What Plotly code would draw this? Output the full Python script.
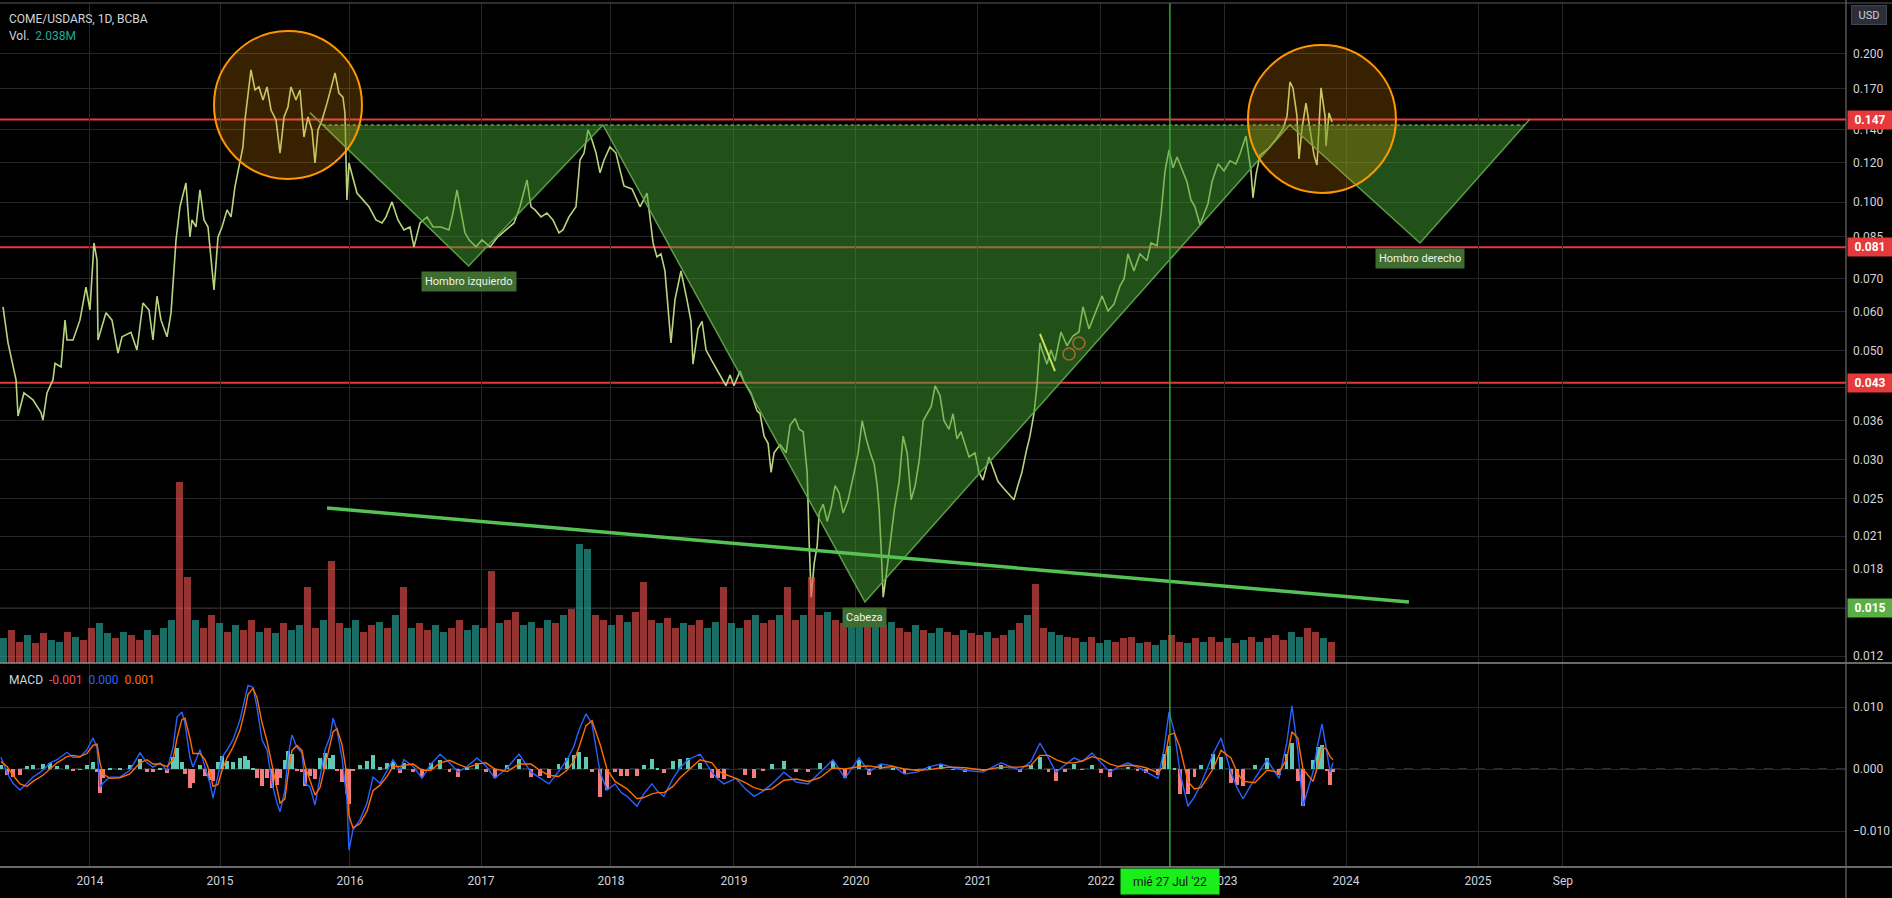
import numpy as np
import plotly.graph_objects as go

# ---------------- data ----------------
# x values are chart-position years (2014.0 = start of 2014 on a linear time scale)
price_a = [(2013.226,0.0613),(2013.266,0.0518),(2013.330,0.0436),(2013.346,0.0368),(2013.393,0.0410),(2013.465,0.0397),(2013.529,0.0374),(2013.545,0.0361),(2013.577,0.0410),(2013.625,0.0436),(2013.641,0.0471),(2013.689,0.0463),(2013.721,0.0576),(2013.737,0.0525),(2013.785,0.0525),(2013.840,0.0576),(2013.888,0.0672),(2013.920,0.0604),(2013.952,0.0826),(2013.976,0.0763),(2013.984,0.0525),(2014.048,0.0596),(2014.096,0.0576),(2014.144,0.0494),(2014.176,0.0533),(2014.247,0.0544),(2014.295,0.0501),(2014.343,0.0624),(2014.391,0.0604),(2014.423,0.0525),(2014.455,0.0644),(2014.487,0.0576),(2014.535,0.0533),(2014.567,0.0596),(2014.607,0.0838),(2014.638,0.0978),(2014.686,0.1093),(2014.718,0.0850),(2014.734,0.0920),(2014.766,0.0890),(2014.798,0.1058),(2014.830,0.0920),(2014.862,0.0890),(2014.894,0.0738),(2014.910,0.0663),(2014.942,0.0850),(2014.974,0.0890),(2015.014,0.0964),(2015.046,0.0933),(2015.077,0.1073),(2015.109,0.1178),(2015.141,0.1293),(2015.157,0.1467),(2015.181,0.1632),(2015.205,0.1853),(2015.237,0.1688),(2015.269,0.1712),(2015.301,0.1610),(2015.333,0.1712),(2015.365,0.1537),(2015.405,0.1467),(2015.437,0.1257),(2015.469,0.1488),(2015.500,0.1559),(2015.524,0.1712),(2015.564,0.1610),(2015.596,0.1688),(2015.628,0.1355),(2015.660,0.1488),(2015.692,0.1400),(2015.716,0.1200),(2015.740,0.1400),(2015.772,0.1467),(2015.812,0.1587),(2015.844,0.1712),(2015.876,0.1828),(2015.907,0.1664),(2015.939,0.1632),(2015.955,0.1516),(2015.963,0.1257),(2015.971,0.1010),(2015.987,0.1200),(2016.019,0.1125),(2016.051,0.1043),(2016.099,0.1010),(2016.147,0.0978),(2016.203,0.0920),(2016.251,0.0907),(2016.283,0.0933),(2016.330,0.1001),(2016.378,0.0920),(2016.426,0.0878),(2016.474,0.0890),(2016.506,0.0811),(2016.554,0.0907),(2016.610,0.0933),(2016.658,0.0890),(2016.722,0.0890),(2016.785,0.0878),(2016.817,0.0950),(2016.849,0.1058),(2016.881,0.0950),(2016.913,0.0866),(2016.945,0.0838),(2017.001,0.0811),(2017.049,0.0838),(2017.113,0.0811),(2017.176,0.0850),(2017.240,0.0878),(2017.304,0.0907),(2017.352,0.0978),(2017.408,0.1109),(2017.440,0.0978),(2017.472,0.0964),(2017.520,0.0933),(2017.567,0.0950),(2017.615,0.0920),(2017.663,0.0866),(2017.695,0.0878),(2017.743,0.0933),(2017.799,0.0978),(2017.831,0.1217),(2017.863,0.1257),(2017.895,0.1400),(2017.919,0.1355),(2017.959,0.1257),(2017.991,0.1146),(2018.023,0.1217),(2018.070,0.1293),(2018.118,0.1257),(2018.150,0.1162)]
price_b = [(2018.182,0.1078),(2018.246,0.1063),(2018.310,0.0978),(2018.366,0.1043),(2018.414,0.0826),(2018.445,0.0774),(2018.477,0.0785),(2018.509,0.0725),(2018.541,0.0593),(2018.557,0.0518),(2018.589,0.0633),(2018.637,0.0725),(2018.685,0.0633),(2018.717,0.0573),(2018.733,0.0469),(2018.773,0.0553),(2018.805,0.0573),(2018.837,0.0501),(2018.884,0.0476),(2018.932,0.0454),(2018.964,0.0438),(2018.996,0.0424),(2019.028,0.0446),(2019.060,0.0424),(2019.108,0.0454),(2019.140,0.0432),(2019.196,0.0410),(2019.244,0.0377),(2019.268,0.0372),(2019.300,0.0335),(2019.332,0.0324),(2019.356,0.0283),(2019.380,0.0310),(2019.428,0.0322),(2019.476,0.0310),(2019.508,0.0353),(2019.548,0.0364),(2019.580,0.0346),(2019.612,0.0342),(2019.628,0.0314),(2019.644,0.0283),(2019.660,0.0204),(2019.676,0.0158),(2019.700,0.0185),(2019.724,0.0201),(2019.740,0.0234),(2019.772,0.0244),(2019.804,0.0225),(2019.836,0.0241),(2019.867,0.0266),(2019.899,0.0257),(2019.931,0.0234),(2019.971,0.0249),(2020.019,0.0283),(2020.051,0.0310),(2020.083,0.0360),(2020.115,0.0331),(2020.147,0.0310),(2020.179,0.0294),(2020.203,0.0266),(2020.219,0.0237),(2020.235,0.0197),(2020.251,0.0158),(2020.275,0.0175),(2020.307,0.0201),(2020.339,0.0237),(2020.378,0.0271),(2020.410,0.0335),(2020.442,0.0310),(2020.474,0.0249),(2020.506,0.0266),(2020.538,0.0299),(2020.570,0.0360),(2020.602,0.0372),(2020.634,0.0385),(2020.666,0.0424),(2020.704,0.0405),(2020.736,0.0360),(2020.776,0.0346),(2020.808,0.0372),(2020.840,0.0331),(2020.872,0.0342),(2020.904,0.0322),(2020.936,0.0304),(2020.983,0.0310)]
price_c = [(2021.015,0.0283),(2021.047,0.0273),(2021.095,0.0304),(2021.127,0.0289),(2021.167,0.0271),(2021.215,0.0262),(2021.263,0.0254),(2021.294,0.0249),(2021.326,0.0266),(2021.358,0.0283),(2021.390,0.0310),(2021.422,0.0335),(2021.454,0.0372),(2021.478,0.0424),(2021.502,0.0518),(2021.518,0.0501),(2021.558,0.0469),(2021.590,0.0501),(2021.622,0.0476),(2021.670,0.0545),(2021.718,0.0511),(2021.765,0.0535),(2021.813,0.0545),(2021.845,0.0613),(2021.893,0.0553),(2021.941,0.0593),(2021.997,0.0645),(2022.045,0.0601),(2022.093,0.0621),(2022.141,0.0676),(2022.173,0.0698),(2022.204,0.0785),(2022.252,0.0725),(2022.300,0.0785),(2022.356,0.0760),(2022.388,0.0826),(2022.436,0.0815),(2022.468,0.0946),(2022.500,0.1156),(2022.532,0.1275),(2022.564,0.1173),(2022.596,0.1234),(2022.644,0.1156),(2022.675,0.1099),(2022.707,0.1010),(2022.739,0.0978),(2022.779,0.0899),(2022.811,0.0946),(2022.843,0.0992),(2022.875,0.1099),(2022.923,0.1195),(2022.971,0.1156),(2023.018,0.1212),(2023.066,0.1195),(2023.098,0.1251),(2023.146,0.1361),(2023.186,0.1156),(2023.202,0.1020),(2023.226,0.1135),(2023.258,0.1245),(2023.322,0.1281),(2023.386,0.1342),(2023.442,0.1407),(2023.474,0.1495),(2023.497,0.1752),(2023.521,0.1704),(2023.553,0.1495),(2023.569,0.1223),(2023.593,0.1407),(2023.625,0.1587),(2023.657,0.1407),(2023.689,0.1245),(2023.713,0.1189),(2023.737,0.1516),(2023.745,0.1704),(2023.777,0.1495),(2023.785,0.1299),(2023.809,0.1516),(2023.833,0.1453)]

# volume in millions, one bar every ~3.3 weeks from vol_start
vol_start = 2013.226
vol_step = 0.06385
volume = [1.5,2.0,1.3,1.7,1.2,1.8,1.4,1.3,1.9,1.6,1.4,2.1,2.4,1.8,1.5,1.9,1.7,1.4,2.0,1.7,2.1,2.6,
          11.0,5.2,
          2.6,2.1,2.9,2.4,1.9,2.3,2.0,2.6,1.9,2.1,1.8,2.4,2.0,2.3,4.6,2.1,2.6,
          6.2,
          2.4,2.1,2.6,1.9,2.3,2.5,2.1,2.9,4.6,2.1,2.4,2.0,2.3,1.9,2.1,2.6,2.0,2.3,2.1,
          5.6,
          2.4,2.6,3.1,2.3,2.5,2.1,2.6,2.4,2.9,3.3,
          7.2,6.9,
          2.9,2.6,2.3,2.9,2.5,3.1,4.9,2.6,2.4,2.7,2.1,2.4,2.3,2.6,2.1,2.5,4.6,2.4,2.1,2.6,2.9,2.4,2.6,2.9,4.6,2.6,2.9,
          5.2,
          2.9,3.1,2.6,2.4,2.7,2.5,2.9,2.6,2.3,2.5,2.1,1.9,2.3,2.0,1.8,2.1,1.9,1.7,2.0,1.8,1.7,1.9,1.5,1.7,2.0,2.4,2.9,
          4.8,
          2.1,1.9,1.7,
          1.6,1.5,1.3,1.6,1.2,1.4,1.3,1.5,1.6,1.2,1.3,1.1,1.4,1.7,1.3,1.2,1.5,1.3,1.6,1.3,1.5,1.2,1.4,1.6,1.3,1.5,1.7,1.4,1.9,1.6,2.1,1.9,1.5,1.3]
vol_dir = ("uddudduudu" "dduududdud" "uudduddudu" "ddududuudd" "udduuddudu" "dudduudduu"
           "ddudduudud" "uduuddudud" "dduddudduu" "duududdudd" "uddudduudu" "dudduduudd"
           "udduddudud" "duudduduud" "dduduuddud" "uddudududd" "duudduddud")

# MACD: (position year, MACD line, signal line)
macd = [(2013.21,.0019,.0012),(2013.258,-.0006,.0004),(2013.306,-.0023,-.0010),(2013.362,-.0034,-.0024),(2013.417,-.0023,-.0028),(2013.465,-.0013,-.0020),(2013.545,-.0002,-.0010),(2013.601,.0010,.0000),(2013.657,.0015,.0010),(2013.737,.0027,.0020),(2013.785,.0019,.0022),(2013.840,.0019,.0020),(2013.896,.0031,.0025),(2013.944,.0050,.0038),(2013.976,.0035,.0040),(2014.000,-.0029,.0010),(2014.024,-.0023,-.0008),(2014.080,-.0013,-.0015),(2014.160,-.0013,-.0014),(2014.239,-.0002,-.0008),(2014.319,.0026,.0010),(2014.375,.0010,.0015),(2014.423,.0003,.0008),(2014.479,.0010,.0008),(2014.535,-.0002,.0004),(2014.583,.0035,.0015),(2014.615,.0084,.0050),(2014.654,.0092,.0080),(2014.678,.0074,.0082),(2014.718,.0019,.0050),(2014.742,.0003,.0025),(2014.798,.0031,.0025),(2014.838,.0003,.0015),(2014.878,-.0023,-.0005),(2014.902,-.0047,-.0028),(2014.942,-.0013,-.0025),(2014.974,.0019,-.0002),(2015.014,.0031,.0018),(2015.061,.0047,.0035),(2015.117,.0079,.0062),(2015.157,.0116,.0095),(2015.181,.0135,.0120),(2015.221,.0132,.0130),(2015.253,.0100,.0115),(2015.293,.0047,.0075),(2015.333,.0031,.0045),(2015.373,-.0023,.0008),(2015.413,-.0055,-.0030),(2015.437,-.0069,-.0055),(2015.476,-.0034,-.0048),(2015.500,.0019,-.0010),(2015.532,.0055,.0030),(2015.572,.0035,.0038),(2015.612,.0026,.0030),(2015.636,-.0023,.0005),(2015.676,-.0029,-.0018),(2015.716,-.0058,-.0042),(2015.756,-.0013,-.0030),(2015.796,.0031,.0005),(2015.836,.0052,.0035),(2015.860,.0082,.0060),(2015.891,.0063,.0065),(2015.931,.0019,.0040),(2015.971,-.0050,-.0010),(2015.987,-.0131,-.0075),(2016.019,-.0098,-.0095),(2016.075,-.0082,-.0088),(2016.131,-.0055,-.0068),(2016.179,-.0013,-.0035),(2016.235,-.0023,-.0026),(2016.291,-.0002,-.0012),(2016.338,.0015,.0004),(2016.394,-.0002,.0004),
        (2016.426,.0015,.0006),(2016.500,.0004,.0008),(2016.570,-.0015,-.0002),(2016.640,.0008,-.0002),(2016.714,.0024,.0010),(2016.790,.0010,.0014),(2016.857,-.0005,.0008),(2016.930,.0004,.0002),(2017.009,.0018,.0008),(2017.080,.0005,.0010),(2017.152,-.0015,.0000),(2017.250,.0002,-.0004),(2017.344,.0024,.0008),(2017.440,-.0005,.0008),(2017.510,-.0014,-.0002),(2017.583,-.0024,-.0010),(2017.660,-.0004,-.0012),(2017.727,.0015,-.0002),(2017.780,.0035,.0012),(2017.823,.0063,.0035),(2017.879,.0089,.0070),(2017.927,.0073,.0078),(2017.991,-.0005,.0040),(2018.046,-.0034,.0000),(2018.110,-.0024,-.0020),(2018.160,-.0038,-.0026),(2018.206,-.0044,-.0032),(2018.286,-.0060,-.0048),(2018.340,-.0040,-.0046),(2018.405,-.0024,-.0040),(2018.450,-.0036,-.0038),(2018.501,-.0044,-.0038),(2018.573,-.0015,-.0028),(2018.630,.0002,-.0014),(2018.693,.0015,-.0002),(2018.789,.0024,.0015),(2018.884,-.0005,.0010),(2018.930,-.0016,-.0002),(2018.980,-.0024,-.0008),(2019.076,-.0015,-.0015),(2019.150,-.0032,-.0022),(2019.220,-.0044,-.0030),(2019.290,-.0036,-.0034),(2019.363,-.0024,-.0032),(2019.459,-.0005,-.0018),(2019.555,-.0021,-.0016),(2019.651,-.0024,-.0020),(2019.746,-.0005,-.0014),(2019.850,.0015,.0002),(2019.946,-.0015,.0000),(2020.058,.0018,.0004),(2020.137,-.0005,.0005),(2020.230,.0008,.0002),(2020.329,.0005,.0004),(2020.420,-.0008,.0000),(2020.521,-.0005,-.0002),(2020.620,.0004,-.0001),(2020.712,.0008,.0002),(2020.810,.0002,.0003),(2020.904,-.0002,.0002),(2021.047,-.0005,-.0002),(2021.191,.0010,.0003),(2021.342,-.0002,.0003),(2021.430,.0012,.0006),(2021.502,.0042,.0022),(2021.570,.0018,.0022),(2021.630,-.0005,.0015),(2021.700,.0006,.0010),(2021.773,.0018,.0010),(2021.840,.0012,.0013),(2021.917,.0026,.0020),(2021.990,.0010,.0016),(2022.061,-.0005,.0008),(2022.130,.0004,.0004),(2022.204,.0010,.0006),(2022.280,.0003,.0005),(2022.348,-.0005,.0002),(2022.444,-.0015,-.0006),(2022.490,.0030,.0005),(2022.532,.0092,.0055),(2022.575,.0060,.0058),(2022.619,-.0005,.0035),(2022.683,-.0060,-.0020),(2022.735,-.0045,-.0032),(2022.787,-.0024,-.0030),(2022.883,.0024,.0000),(2022.947,.0050,.0030),(2023.026,-.0005,.0018),(2023.075,-.0030,-.0005),(2023.122,-.0048,-.0020),(2023.218,-.0015,-.0022),(2023.314,.0015,-.0002),(2023.410,-.0015,-.0005),(2023.470,.0040,.0015),(2023.513,.0102,.0060),(2023.560,.0030,.0050),(2023.601,-.0060,.0000),(2023.681,-.0005,-.0020),(2023.720,.0040,.0005),(2023.753,.0073,.0035),(2023.790,.0030,.0032),(2023.817,-.0005,.0020),(2023.841,.0010,.0015)]

# drawn levels
levels_red = [0.147, 0.081, 0.043]
level_green = 0.015

# inverse head & shoulders drawing: start, L-shoulder, neck, head, neck, R-shoulder, end
hs_t = [2015.676, 2016.942, 2018.014, 2020.105, 2023.495, 2024.535, 2025.413]
hs_v = [0.1518, 0.0742, 0.1433, 0.01545, 0.1433, 0.0826, 0.1473]
hs_text = {1: "Hombro izquierdo", 3: "Cabeza", 5: "Hombro derecho"}

# highlight circles (x0, x1, y0, y1)
circle_boxes = [(2014.910, 2016.091, 0.1114, 0.2223), (2023.162, 2024.343, 0.1043, 0.2083)]
small_circles = [(2021.686, 2021.782, 0.04782, 0.05057), (2021.765, 2021.861, 0.05034, 0.05325)]
small_line = [(2021.502, 0.0540), (2021.622, 0.0454)]

trend_t = [2015.812, 2024.447]
trend_v = [0.02395, 0.01544]

crosshair_t = 2022.539
crosshair_label = "mié 27 Jul '22"

# positions of the time-axis labels as they sit on the chart (bar-spaced axis)
year_ticks = [2013.920, 2014.958, 2015.995, 2017.041, 2018.078, 2019.060, 2020.033, 2021.007,
              2021.989, 2022.971, 2023.945, 2024.998, 2025.676]
year_text = ["2014", "2015", "2016", "2017", "2018", "2019", "2020", "2021", "2022", "2023", "2024", "2025", "Sep"]
price_ticks = [0.012, 0.015, 0.018, 0.021, 0.025, 0.030, 0.036, 0.042, 0.050, 0.060, 0.070,
               0.085, 0.100, 0.120, 0.140, 0.170, 0.200]
macd_ticks = [-0.01, 0.0, 0.01]
macd_ticktext = ["\u22120.010", "0.000", "0.010"]

# ---------------- styling ----------------
BG = "#000000"
GRID = "#262626"
TXT = "#d1d4dc"
FONT = "Roboto, 'Liberation Sans', sans-serif"
XR = [2013.202, 2027.935]
MAC_H = 204 / 864.0

price = price_a + price_b + price_c
pt = [p[0] for p in price]
pv = [p[1] for p in price]

vol_t = [vol_start + i * vol_step for i in range(len(volume))]
vol_colors = ["rgba(38,166,154,0.65)" if c == "u" else "rgba(239,83,80,0.62)" for c in vol_dir[:len(volume)]]

mt = [m[0] for m in macd]
mv = [m[1] for m in macd]
sv = [m[2] for m in macd]
hist = [a - b for a, b in zip(mv, sv)]
hist_colors = ["#5fc9b5" if h >= 0 else "#f47c80" for h in hist]

# neckline crossing points of the outer legs
lv = np.log10(hs_v)
neck_v = hs_v[2]
neck = lv[2]
def cross(i, j):
    f = (lv[i] - neck) / (lv[i] - lv[j])
    return hs_t[i] + f * (hs_t[j] - hs_t[i])
xl = cross(0, 1)
xr = cross(6, 5)
poly_t = [xl] + hs_t[1:6] + [xr, xl]
poly_v = [neck_v] + hs_v[1:6] + [neck_v, neck_v]

fig = go.Figure()
fig.add_trace(go.Bar(x=vol_t, y=volume, xaxis="x", yaxis="y3", width=0.056,
                     marker=dict(color=vol_colors, line=dict(width=0)), hoverinfo="skip"))
fig.add_trace(go.Scatter(x=pt, y=pv, xaxis="x", yaxis="y", mode="lines",
                         line=dict(color="#b8d47e", width=1.6), hoverinfo="skip"))
fig.add_trace(go.Scatter(x=poly_t, y=poly_v, xaxis="x", yaxis="y", mode="lines", fill="toself",
                         fillcolor="rgba(67,160,50,0.5)", line=dict(width=0), hoverinfo="skip"))
fig.add_trace(go.Scatter(x=hs_t, y=hs_v, xaxis="x", yaxis="y", mode="lines",
                         line=dict(color="rgba(100,170,80,0.9)", width=1.5), hoverinfo="skip"))
fig.add_trace(go.Scatter(x=[xl, xr], y=[neck_v, neck_v], xaxis="x", yaxis="y", mode="lines",
                         line=dict(color="rgba(110,175,90,0.9)", width=1.5, dash="dot"), hoverinfo="skip"))
fig.add_trace(go.Bar(x=mt, y=hist, xaxis="x2", yaxis="y2", width=0.03,
                     marker=dict(color=hist_colors, line=dict(width=0)), hoverinfo="skip"))
fig.add_trace(go.Scatter(x=mt, y=mv, xaxis="x2", yaxis="y2", mode="lines",
                         line=dict(color="#2962ff", width=1.4), hoverinfo="skip"))
fig.add_trace(go.Scatter(x=mt, y=sv, xaxis="x2", yaxis="y2", mode="lines",
                         line=dict(color="#ff6d00", width=1.4), hoverinfo="skip"))

shapes = []
for lvl in levels_red:
    shapes.append(dict(type="line", xref="paper", x0=0, x1=1, yref="y", y0=lvl, y1=lvl,
                       line=dict(color="#e5393c", width=2), layer="below"))
shapes.append(dict(type="line", xref="paper", x0=0, x1=1, yref="y", y0=level_green, y1=level_green,
                   line=dict(color="#456f30", width=1.2), layer="below"))
shapes.append(dict(type="line", xref="paper", x0=0, x1=1, yref="y2", y0=0, y1=0,
                   line=dict(color="#5d606b", width=1, dash="dash"), layer="below"))
for (x0, x1, y0, y1) in circle_boxes:
    shapes.append(dict(type="circle", xref="x", yref="y", x0=x0, x1=x1, y0=y0, y1=y1,
                       fillcolor="rgba(255,152,0,0.22)", line=dict(color="#ff9800", width=2), layer="above"))
for (x0, x1, y0, y1) in small_circles:
    shapes.append(dict(type="circle", xref="x", yref="y", x0=x0, x1=x1, y0=y0, y1=y1,
                       line=dict(color="#b0682a", width=1.5), layer="above"))
shapes.append(dict(type="line", xref="x", yref="y", x0=small_line[0][0], y0=small_line[0][1],
                   x1=small_line[1][0], y1=small_line[1][1], line=dict(color="#c8e05a", width=2), layer="above"))
shapes.append(dict(type="line", xref="x", yref="y", x0=trend_t[0], y0=trend_v[0], x1=trend_t[1], y1=trend_v[1],
                   line=dict(color="#55c255", width=3.5), layer="above"))
shapes.append(dict(type="line", xref="x", yref="paper", x0=crosshair_t, x1=crosshair_t, y0=0, y1=1,
                   line=dict(color="#34a834", width=1.5), layer="above"))
# frame lines
shapes.append(dict(type="line", xref="paper", yref="paper", x0=0, x1=1.03, y0=MAC_H, y1=MAC_H,
                   line=dict(color="#8c8c8c", width=1.5), layer="above"))
shapes.append(dict(type="line", xref="paper", yref="paper", x0=0, x1=1.03, y0=0, y1=0,
                   line=dict(color="#8c8c8c", width=1.5), layer="above"))
shapes.append(dict(type="line", xref="paper", yref="paper", x0=1, x1=1, y0=-0.036, y1=1.0035,
                   line=dict(color="#6b6b6b", width=1.2), layer="above"))
shapes.append(dict(type="line", xref="paper", yref="paper", x0=0, x1=1.03, y0=1.0, y1=1.0,
                   line=dict(color="#5a5a5a", width=1), layer="above"))

ann = []
for i, txt in hs_text.items():
    ann.append(dict(x=hs_t[i], y=float(np.log10(hs_v[i])), xref="x", yref="y", text=txt, showarrow=False,
                    yanchor="top", yshift=-5, bgcolor="#3f6d31", borderpad=3,
                    font=dict(family=FONT, size=11, color="#edf3e8")))
for lvl in levels_red:
    ann.append(dict(x=1, xref="paper", xanchor="left", xshift=1, y=float(np.log10(lvl)), yref="y",
                    text="<b>%.3f</b>" % lvl, showarrow=False, bgcolor="#e5393c", width=42, height=16,
                    borderpad=1, font=dict(family=FONT, size=12, color="#ffffff")))
ann.append(dict(x=1, xref="paper", xanchor="left", xshift=1, y=float(np.log10(level_green)), yref="y",
                text="<b>%.3f</b>" % level_green, showarrow=False, bgcolor="#5aae48", width=42, height=16,
                borderpad=1, font=dict(family=FONT, size=12, color="#ffffff")))
ann.append(dict(x=1, xref="paper", xanchor="left", xshift=5, y=1, yref="paper", yanchor="top", yshift=-2,
                text="USD", showarrow=False, bgcolor="#2a2e39", bordercolor="#434651", borderwidth=1,
                width=32, height=16, font=dict(family=FONT, size=11, color=TXT)))
ann.append(dict(x=0, xref="paper", xanchor="left", xshift=7, y=1, yref="paper", yanchor="top", yshift=-7,
                text="COME/USDARS, 1D, BCBA", showarrow=False, font=dict(family=FONT, size=12, color=TXT)))
ann.append(dict(x=0, xref="paper", xanchor="left", xshift=7, y=1, yref="paper", yanchor="top", yshift=-24,
                text="Vol.  <span style='color:#22ab94'>2.038M</span>", showarrow=False,
                font=dict(family=FONT, size=12, color=TXT)))
ann.append(dict(x=0, xref="paper", xanchor="left", xshift=7, y=MAC_H, yref="paper", yanchor="top", yshift=-8,
                text="MACD  <span style='color:#f7525f'>-0.001</span>  <span style='color:#2962ff'>0.000</span>"
                     "  <span style='color:#ff6d00'>0.001</span>",
                showarrow=False, font=dict(family=FONT, size=12, color=TXT)))
ann.append(dict(x=crosshair_t, xref="x2", y=0, yref="paper", yanchor="top", yshift=-1,
                text=crosshair_label, showarrow=False, bgcolor="#1bef1b", width=96, height=23,
                font=dict(family=FONT, size=12, color="#131722")))

fig.update_layout(
    width=1892, height=898, margin=dict(l=0, r=46, t=3, b=31),
    paper_bgcolor=BG, plot_bgcolor=BG, showlegend=False, hovermode=False,
    font=dict(family=FONT, size=12, color=TXT),
    bargap=0,
    xaxis=dict(domain=[0, 1], anchor="y", range=XR, tickvals=year_ticks, showticklabels=False,
               showgrid=True, gridcolor=GRID, zeroline=False, ticks="", showline=False),
    yaxis=dict(domain=[MAC_H, 1], anchor="x", type="log", range=[-1.935, -0.5963], side="right",
               tickvals=price_ticks, ticktext=["%.3f" % v for v in price_ticks],
               showgrid=True, gridcolor=GRID, zeroline=False, ticks="", ticklabelstandoff=6,
               tickfont=dict(family=FONT, size=12, color=TXT)),
    yaxis3=dict(overlaying="y", anchor="x", range=[0, 40], visible=False, showgrid=False),
    xaxis2=dict(domain=[0, 1], anchor="y2", range=XR, matches="x", tickvals=year_ticks, ticktext=year_text,
                showgrid=True, gridcolor=GRID, zeroline=False, ticks="", ticklabelstandoff=5,
                tickfont=dict(family=FONT, size=12, color=TXT)),
    yaxis2=dict(domain=[0, MAC_H], anchor="x2", range=[-0.0158, 0.0171], side="right",
                tickvals=macd_ticks, ticktext=macd_ticktext, showgrid=True, gridcolor=GRID,
                zeroline=False, ticks="", ticklabelstandoff=6, tickfont=dict(family=FONT, size=12, color=TXT)),
    shapes=shapes, annotations=ann,
)

fig.write_html("out.html", config={"displayModeBar": False},
               post_script="document.body.style.margin='0px';document.body.style.overflow='hidden';")
